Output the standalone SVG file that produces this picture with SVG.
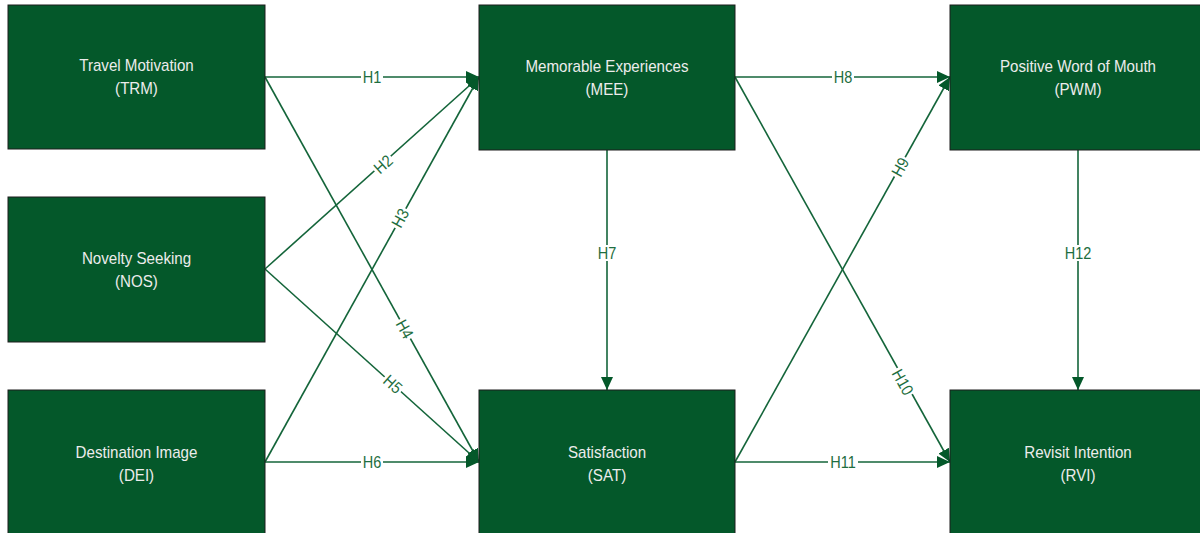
<svg xmlns="http://www.w3.org/2000/svg" width="1200" height="533" viewBox="0 0 1200 533">
<style>
.box{fill:#04582a;stroke:#1c1c1c;stroke-width:1}
.nt{font-family:"Liberation Sans",Arial,sans-serif;font-size:17px;fill:#ececec;text-anchor:middle}
.ln{stroke:#14653a;stroke-width:1.6;fill:none;marker-end:url(#ah)}
.lb{font-family:"Liberation Sans",Arial,sans-serif;font-size:16.5px;fill:#1e6e40;text-anchor:middle}
.bg{fill:#ffffff}
</style>
<defs>
<marker id="ah" markerUnits="userSpaceOnUse" markerWidth="13" markerHeight="12" refX="13" refY="6" orient="auto">
<path d="M0,0 L13,6 L0,12 z" fill="#04582a"/>
</marker>
</defs>
<rect width="1200" height="533" fill="#ffffff"/>
<g id="connectors">
<line class="ln" x1="265" y1="77" x2="479" y2="77"/>
<line class="ln" x1="265" y1="269" x2="479" y2="77"/>
<line class="ln" x1="265" y1="462" x2="479" y2="77"/>
<line class="ln" x1="265" y1="77" x2="479" y2="462"/>
<line class="ln" x1="265" y1="269" x2="479" y2="462"/>
<line class="ln" x1="265" y1="462" x2="479" y2="462"/>
<line class="ln" x1="607" y1="150" x2="607" y2="390"/>
<line class="ln" x1="735" y1="77" x2="950" y2="77"/>
<line class="ln" x1="735" y1="462" x2="950" y2="77"/>
<line class="ln" x1="735" y1="77" x2="950" y2="462"/>
<line class="ln" x1="735" y1="462" x2="950" y2="462"/>
<line class="ln" x1="1078" y1="150" x2="1078" y2="390"/>
<g transform="translate(372,77)"><rect class="bg" x="-11" y="-8" width="22" height="16"/><text class="lb" y="6" transform="scale(0.88,1)">H1</text></g>
<g transform="translate(383,164) rotate(-41.9)"><rect class="bg" x="-11" y="-8" width="22" height="16"/><text class="lb" y="6" transform="scale(0.88,1)">H2</text></g>
<g transform="translate(400,218) rotate(-60.9)"><rect class="bg" x="-11" y="-8" width="22" height="16"/><text class="lb" y="6" transform="scale(0.88,1)">H3</text></g>
<g transform="translate(405,329) rotate(60.9)"><rect class="bg" x="-11" y="-8" width="22" height="16"/><text class="lb" y="6" transform="scale(0.88,1)">H4</text></g>
<g transform="translate(393,384) rotate(42)"><rect class="bg" x="-11" y="-8" width="22" height="16"/><text class="lb" y="6" transform="scale(0.88,1)">H5</text></g>
<g transform="translate(372,462)"><rect class="bg" x="-11" y="-8" width="22" height="16"/><text class="lb" y="6" transform="scale(0.88,1)">H6</text></g>
<g transform="translate(607,253)"><rect class="bg" x="-11" y="-8" width="22" height="16"/><text class="lb" y="6" transform="scale(0.88,1)">H7</text></g>
<g transform="translate(843,77)"><rect class="bg" x="-11" y="-8" width="22" height="16"/><text class="lb" y="6" transform="scale(0.88,1)">H8</text></g>
<g transform="translate(900,167) rotate(-60.8)"><rect class="bg" x="-11" y="-8" width="22" height="16"/><text class="lb" y="6" transform="scale(0.88,1)">H9</text></g>
<g transform="translate(903,382) rotate(60.8)"><rect class="bg" x="-15" y="-8" width="30" height="16"/><text class="lb" y="6" transform="scale(0.88,1)">H10</text></g>
<g transform="translate(843,462)"><rect class="bg" x="-15" y="-8" width="30" height="16"/><text class="lb" y="6" transform="scale(0.88,1)">H11</text></g>
<g transform="translate(1078,253)"><rect class="bg" x="-15" y="-8" width="30" height="16"/><text class="lb" y="6" transform="scale(0.88,1)">H12</text></g>
</g>
<g id="TRM"><rect class="box" x="8" y="5" width="257" height="144"/><g transform="translate(136.5,0) scale(0.89,1)"><text class="nt" y="71">Travel Motivation</text><text class="nt" y="94">(TRM)</text></g></g>
<g id="NOS"><rect class="box" x="8" y="197" width="257" height="145"/><g transform="translate(136.5,0) scale(0.89,1)"><text class="nt" y="264">Novelty Seeking</text><text class="nt" y="287">(NOS)</text></g></g>
<g id="DEI"><rect class="box" x="8" y="390" width="257" height="145"/><g transform="translate(136.5,0) scale(0.89,1)"><text class="nt" y="458">Destination Image</text><text class="nt" y="481">(DEI)</text></g></g>
<g id="MEE"><rect class="box" x="479" y="5" width="256" height="145"/><g transform="translate(607,0) scale(0.89,1)"><text class="nt" y="72">Memorable Experiences</text><text class="nt" y="95">(MEE)</text></g></g>
<g id="SAT"><rect class="box" x="479" y="390" width="256" height="145"/><g transform="translate(607,0) scale(0.89,1)"><text class="nt" y="458">Satisfaction</text><text class="nt" y="481">(SAT)</text></g></g>
<g id="PWM"><rect class="box" x="950" y="5" width="256" height="145"/><g transform="translate(1078,0) scale(0.89,1)"><text class="nt" y="72">Positive Word of Mouth</text><text class="nt" y="95">(PWM)</text></g></g>
<g id="RVI"><rect class="box" x="950" y="390" width="256" height="145"/><g transform="translate(1078,0) scale(0.89,1)"><text class="nt" y="458">Revisit Intention</text><text class="nt" y="481">(RVI)</text></g></g>
</svg>
